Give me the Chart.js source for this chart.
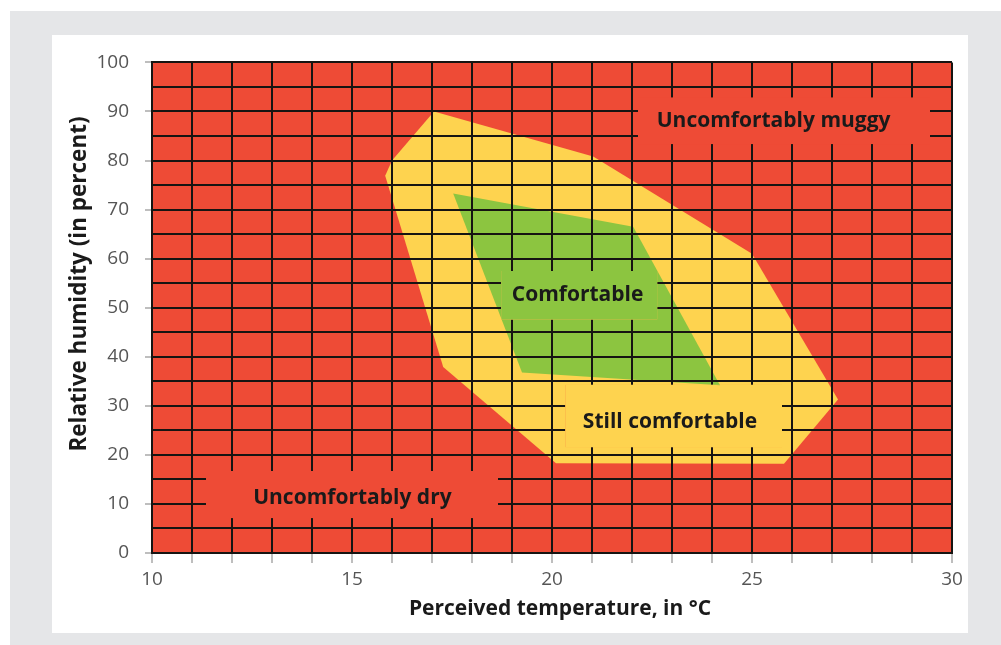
<!DOCTYPE html>
<html><head><meta charset="utf-8">
<script src="https://cdn.jsdelivr.net/npm/chart.js@4/dist/chart.umd.min.js"></script>
<style>
html,body{margin:0;padding:0;background:#fff;width:1001px;height:645px;overflow:hidden}
#bg{position:absolute;left:10px;top:11px;width:991px;height:634px;background:#e5e6e8}
#panel{position:absolute;left:52px;top:35px;width:916px;height:598px;background:#fff}
canvas{display:block}
</style></head><body>
<div id="bg"></div>
<div id="panel"><canvas id="c" width="916" height="598"></canvas></div>
<script>
// ---- data ----
const tempRange = [10, 30];
const humidityRange = [0, 100];
const stillComfortableT  = [17.05, 21.03, 25.0, 27.15, 25.8, 20.1, 17.28, 15.83, 16.0];
const stillComfortableRH = [90, 80.8, 61, 31.3, 18.2, 18.3, 37.9, 76.9, 80];
const comfortableT  = [17.53, 22.03, 24.2, 19.25];
const comfortableRH = [73.3, 66.5, 34.2, 36.8];
const zoneLabels = ['Uncomfortably muggy', 'Comfortable', 'Still comfortable', 'Uncomfortably dry'];
const labelT  = [25.54, 20.64, 22.95, 15.01];
const labelRH = [87.96, 52.56, 26.67, 11.15];
const labelBoxT0  = [22.15, 18.73, 20.33, 11.35];
const labelBoxT1  = [29.45, 22.63, 25.75, 18.65];
const labelBoxRH0 = [83.3, 47.58, 21.57, 7.06];
const labelBoxRH1 = [92.9, 57.46, 34.27, 16.73];
const xTitle = 'Perceived temperature, in °C';
const yTitle = 'Relative humidity (in percent)';

// ---- styles ----
const RED = '#ee4b36', YELLOW = '#fed34f', GREEN = '#8cc540';
const GRID = '#161412', TICK = '#a8a8a8';
const FONT = '"Open Sans"';

const toPts = (xs, ys) => xs.map((x, i) => ({x, y: ys[i]}));

function polyPath(ctx, xs, ys, sx, sy) {
  ctx.beginPath();
  xs.forEach((x, i) => {
    const px = sx.getPixelForValue(x), py = sy.getPixelForValue(ys[i]);
    if (i === 0) ctx.moveTo(px, py); else ctx.lineTo(px, py);
  });
  ctx.closePath();
}

const bgPlugin = {
  id: 'zoneBg',
  beforeDatasetsDraw(chart) {
    const {ctx, chartArea: a} = chart;
    ctx.save(); ctx.fillStyle = RED;
    ctx.fillRect(a.left, a.top, a.right - a.left, a.bottom - a.top);
    ctx.restore();
  },
  afterDraw(chart) {
    const {ctx} = chart;
    const sx = chart.scales.x, sy = chart.scales.y;
    zoneLabels.forEach((txt, i) => {
      const x0 = sx.getPixelForValue(labelBoxT0[i]), x1 = sx.getPixelForValue(labelBoxT1[i]);
      const y0 = sy.getPixelForValue(labelBoxRH1[i]), y1 = sy.getPixelForValue(labelBoxRH0[i]);
      ctx.save();
      ctx.beginPath(); ctx.rect(x0, y0, x1 - x0, y1 - y0); ctx.clip();
      ctx.fillStyle = RED; ctx.fillRect(x0, y0, x1 - x0, y1 - y0);
      ctx.fillStyle = YELLOW; polyPath(ctx, stillComfortableT, stillComfortableRH, sx, sy); ctx.fill();
      ctx.fillStyle = GREEN; polyPath(ctx, comfortableT, comfortableRH, sx, sy); ctx.fill();
      ctx.restore();
      ctx.save();
      ctx.font = 'bold 21px ' + FONT;
      ctx.fillStyle = '#1a1a1a';
      ctx.textAlign = 'center'; ctx.textBaseline = 'middle';
      ctx.fillText(txt, sx.getPixelForValue(labelT[i]), sy.getPixelForValue(labelRH[i]));
      ctx.restore();
    });
    // axis titles
    ctx.save();
    ctx.fillStyle = '#1a1a1a';
    ctx.textAlign = 'center'; ctx.textBaseline = 'middle';
    ctx.font = 'bold 21px ' + FONT;
    ctx.fillText(xTitle, 508, 574);
    ctx.font = 'bold 22.5px ' + FONT;
    ctx.translate(28, 249); ctx.rotate(-Math.PI / 2);
    ctx.fillText(yTitle, 0, 0);
    ctx.restore();
  }
};

new Chart(document.getElementById('c'), {
  type: 'scatter',
  data: {
    datasets: [
      {label: 'Comfortable', data: toPts(comfortableT, comfortableRH), showLine: true, fill: 'shape',
       backgroundColor: GREEN, borderWidth: 0, borderColor: 'rgba(0,0,0,0)', pointRadius: 0, pointHoverRadius: 0},
      {label: 'Still comfortable', data: toPts(stillComfortableT, stillComfortableRH), showLine: true, fill: 'shape',
       backgroundColor: YELLOW, borderWidth: 0, borderColor: 'rgba(0,0,0,0)', pointRadius: 0, pointHoverRadius: 0}
    ]
  },
  options: {
    responsive: false, animation: false, devicePixelRatio: 1,
    layout: {padding: {left: 0, top: 22, right: 16, bottom: 0}},
    plugins: {legend: {display: false}, tooltip: {enabled: false}},
    scales: {
      x: {
        type: 'linear', min: tempRange[0], max: tempRange[1],
        afterFit: s => { s.height = 80; },
        ticks: {stepSize: 1, autoSkip: false, maxRotation: 0, padding: 5,
                callback: v => (v % 5 === 0 ? String(v) : ''),
                font: {family: FONT, size: 19}, color: '#555555'},
        grid: {color: GRID, lineWidth: 2, tickLength: 10, tickColor: TICK, tickWidth: 1.5, z: 1},
        border: {color: GRID, width: 2, z: 1}
      },
      y: {
        type: 'linear', min: humidityRange[0], max: humidityRange[1],
        afterFit: s => { s.width = 100; },
        ticks: {stepSize: 5, autoSkip: false, padding: 16,
                callback: v => (v % 10 === 0 ? String(v) : ''),
                font: {family: FONT, size: 19}, color: '#555555'},
        grid: {color: GRID, lineWidth: 2, tickLength: 7,
               tickColor: c => (c.tick && c.tick.value % 10 === 0 ? TICK : 'rgba(0,0,0,0)'),
               tickWidth: 1.5, z: 1},
        border: {color: GRID, width: 2, z: 1}
      }
    }
  },
  plugins: [bgPlugin]
});
</script>
</body></html>
